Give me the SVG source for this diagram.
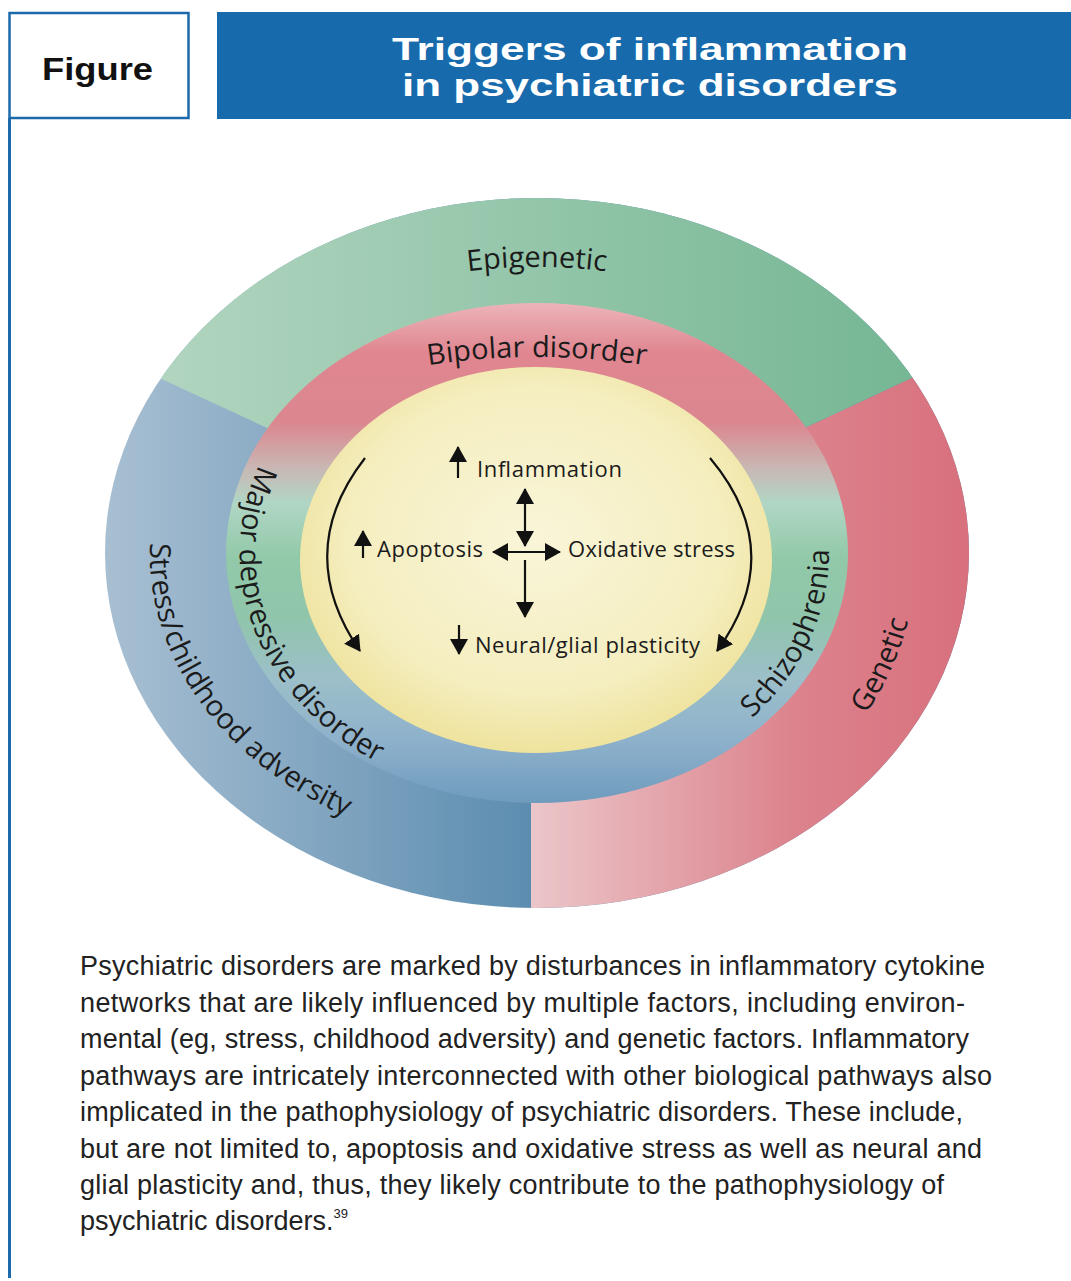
<svg xmlns="http://www.w3.org/2000/svg" xmlns:xlink="http://www.w3.org/1999/xlink" width="1071" height="1281" viewBox="0 0 1071 1281">
<style>
.hdr{font-family:"Liberation Sans",Arial,sans-serif;font-weight:bold;}
.ring{font-family:"Open Sans","Noto Sans",sans-serif;font-size:29px;fill:#1b1b1b;}
.lbl{font-family:"Open Sans","Noto Sans",sans-serif;font-size:22px;fill:#1b1b1b;}
.body{font-family:"Liberation Sans",Arial,sans-serif;font-size:27px;fill:#222;}
.arr{fill:none;stroke:#111;stroke-width:2.2;}
</style>
<defs>
<linearGradient id="gGreen" gradientUnits="userSpaceOnUse" x1="150" y1="0" x2="930" y2="0">
<stop offset="0" stop-color="#b2d5c0"/><stop offset="1" stop-color="#74b693"/>
</linearGradient>
<linearGradient id="gBlue" gradientUnits="userSpaceOnUse" x1="105" y1="0" x2="530" y2="0">
<stop offset="0" stop-color="#a8bfd2"/><stop offset="1" stop-color="#5c8db0"/>
</linearGradient>
<linearGradient id="gPink" gradientUnits="userSpaceOnUse" x1="532" y1="0" x2="968" y2="0">
<stop offset="0" stop-color="#ebc6c9"/><stop offset="0.6" stop-color="#dc838d"/><stop offset="1" stop-color="#d8707d"/>
</linearGradient>
<linearGradient id="gMid" gradientUnits="userSpaceOnUse" x1="0" y1="303" x2="0" y2="803">
<stop offset="0" stop-color="#ecb4b9"/>
<stop offset="0.1" stop-color="#e08690"/>
<stop offset="0.24" stop-color="#db8790"/>
<stop offset="0.33" stop-color="#c9b7b3"/>
<stop offset="0.4" stop-color="#b0d6c5"/>
<stop offset="0.51" stop-color="#92c9a9"/>
<stop offset="0.63" stop-color="#90c5ab"/>
<stop offset="0.75" stop-color="#9cbfc9"/>
<stop offset="0.87" stop-color="#8fb2cc"/>
<stop offset="1" stop-color="#6e9bbd"/>
</linearGradient>
<radialGradient id="gYel" cx="0.5" cy="0.45" r="0.56">
<stop offset="0" stop-color="#f9f5d8"/><stop offset="0.7" stop-color="#f5eec0"/><stop offset="1" stop-color="#eee29b"/>
</radialGradient>
<clipPath id="outerClip"><ellipse cx="537" cy="553" rx="432" ry="355"/></clipPath>
<marker id="ah" markerUnits="userSpaceOnUse" markerWidth="16" markerHeight="18" viewBox="0 0 16 18" refX="15" refY="9" orient="auto-start-reverse">
<path d="M0,0 L16,9 L0,18 z" fill="#111"/>
</marker>
<path id="p-epi" d="M137,553 A400,286 0 0 1 937,553"/>
<path id="p-bip" d="M157,553 A380,196 0 0 1 917,553"/>
<path id="p-mdd" d="M259,465 A297,248 0 0 0 537,801"/>
<path id="p-str" d="M150,543 A388,303 0 0 0 537,856"/>
<path id="p-sch" d="M752,718 A292,244 0 0 0 636.9,323.7"/>
<path id="p-gen" d="M866,714 A381,324 0 0 0 727.5,272.4"/>
</defs>

<rect width="1071" height="1281" fill="#fff"/>

<g id="header">
<rect x="217" y="12" width="854" height="107" fill="#176aac"/>
<rect x="9.5" y="13" width="179" height="105" fill="#fff" stroke="#1d6aab" stroke-width="2.5"/>
<line x1="9.5" y1="118" x2="9.5" y2="1278" stroke="#1d6aab" stroke-width="3"/>
<text class="hdr" x="42" y="80" font-size="31" fill="#111" textLength="111" lengthAdjust="spacingAndGlyphs">Figure</text>
<text class="hdr" x="392" y="60" font-size="31" fill="#fff" textLength="516" lengthAdjust="spacingAndGlyphs">Triggers of inflammation</text>
<text class="hdr" x="402" y="96" font-size="31" fill="#fff" textLength="496" lengthAdjust="spacingAndGlyphs">in psychiatric disorders</text>
</g>

<g id="outer-ring">
<ellipse cx="537" cy="553" rx="432" ry="355" fill="url(#gBlue)"/>
<g clip-path="url(#outerClip)">
<polygon points="537,553 -223,201 -223,-50 1300,-50 1300,197" fill="url(#gGreen)"/>
<polygon points="537,553 1300,197 1300,1000 531,1000 531,553" fill="url(#gPink)"/>
</g>
</g>

<g id="middle-ring">
<ellipse cx="537" cy="553" rx="311" ry="250" fill="url(#gMid)"/>
</g>

<g id="core">
<ellipse cx="536" cy="560" rx="236" ry="193" fill="url(#gYel)"/>
</g>

<g id="ring-labels">
<text class="ring" font-size="30.5" text-anchor="middle"><textPath xlink:href="#p-epi" href="#p-epi" startOffset="50%">Epigenetic</textPath></text>
<text class="ring" font-size="29.5" text-anchor="middle"><textPath xlink:href="#p-bip" href="#p-bip" startOffset="50%">Bipolar disorder</textPath></text>
<text class="ring" font-size="27"><textPath xlink:href="#p-mdd" href="#p-mdd">Major depressive disorder</textPath></text>
<text class="ring" font-size="26.5"><textPath xlink:href="#p-str" href="#p-str">Stress/childhood adversity</textPath></text>
<text class="ring" font-size="28.5"><textPath xlink:href="#p-sch" href="#p-sch">Schizophrenia</textPath></text>
<text class="ring" font-size="27.5"><textPath xlink:href="#p-gen" href="#p-gen">Genetic</textPath></text>
</g>

<g id="center-labels">
<text class="lbl" x="477" y="477" textLength="145" lengthAdjust="spacing">Inflammation</text>
<text class="lbl" x="377" y="557" textLength="106" lengthAdjust="spacing">Apoptosis</text>
<text class="lbl" x="568" y="557" textLength="167" lengthAdjust="spacing">Oxidative stress</text>
<text class="lbl" x="475" y="653" textLength="225" lengthAdjust="spacing">Neural/glial plasticity</text>
</g>

<g id="connectors">
<line class="arr" x1="458" y1="478" x2="458" y2="447" marker-end="url(#ah)"/>
<line class="arr" x1="363" y1="558" x2="363" y2="531" marker-end="url(#ah)"/>
<line class="arr" x1="459" y1="625" x2="459" y2="654" marker-end="url(#ah)"/>
<line class="arr" x1="525" y1="489" x2="525" y2="546" marker-start="url(#ah)" marker-end="url(#ah)"/>
<line class="arr" x1="493" y1="552" x2="560" y2="552" marker-start="url(#ah)" marker-end="url(#ah)"/>
<line class="arr" x1="525" y1="560" x2="525" y2="617" marker-end="url(#ah)"/>
<path class="arr" d="M365,458 Q292,552 360,651" marker-end="url(#ah)"/>
<path class="arr" d="M710,458 Q789,552 717,651" marker-end="url(#ah)"/>
</g>

<g id="caption">
<text class="body" x="80" y="975" textLength="905" lengthAdjust="spacing">Psychiatric disorders are marked by disturbances in inflammatory cytokine</text>
<text class="body" x="80" y="1011.5" textLength="885" lengthAdjust="spacing">networks that are likely influenced by multiple factors, including environ-</text>
<text class="body" x="80" y="1048" textLength="889" lengthAdjust="spacing">mental (eg, stress, childhood adversity) and genetic factors. Inflammatory</text>
<text class="body" x="80" y="1084.5" textLength="912" lengthAdjust="spacing">pathways are intricately interconnected with other biological pathways also</text>
<text class="body" x="80" y="1121" textLength="883" lengthAdjust="spacing">implicated in the pathophysiology of psychiatric disorders. These include,</text>
<text class="body" x="80" y="1157.5" textLength="902" lengthAdjust="spacing">but are not limited to, apoptosis and oxidative stress as well as neural and</text>
<text class="body" x="80" y="1194" textLength="864" lengthAdjust="spacing">glial plasticity and, thus, they likely contribute to the pathophysiology of</text>
<text class="body" x="80" y="1230">psychiatric disorders.<tspan font-size="13" dy="-12">39</tspan></text>
</g>
</svg>
